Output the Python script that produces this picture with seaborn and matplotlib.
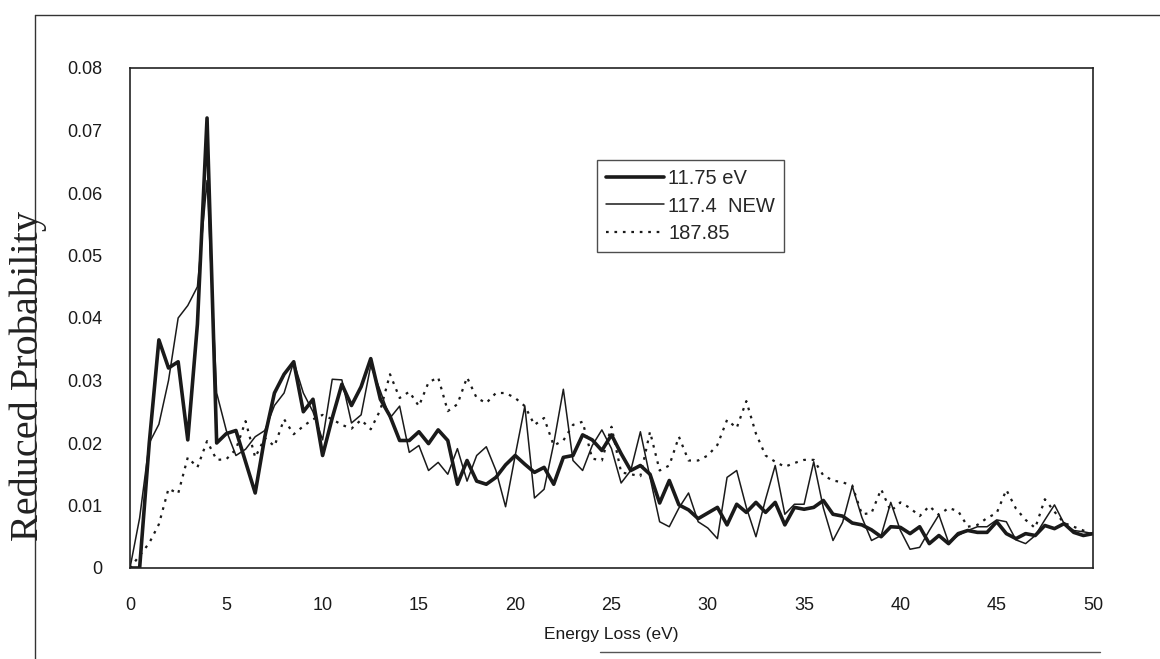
import numpy as np
import pandas as pd
import matplotlib
matplotlib.use("Agg")
import matplotlib.pyplot as plt
from matplotlib.lines import Line2D
import seaborn as sns

# ---- data (Energy loss step 0.5 eV) ----
energy_loss = [i * 0.5 for i in range(101)]

series_11_75 = [
    0.000, 0.000, 0.020, 0.0365, 0.032, 0.033, 0.0205, 0.039, 0.072, 0.020,
    0.0215, 0.022, 0.017, 0.012, 0.021, 0.028, 0.031, 0.033, 0.025, 0.027,
    0.018, 0.024, 0.0294, 0.026, 0.029, 0.0335, 0.027, 0.0243, 0.0204, 0.0204,
    0.0218, 0.0199, 0.0221, 0.0204, 0.0134, 0.0172, 0.0139, 0.0134, 0.0145, 0.0165,
    0.018, 0.0166, 0.0153, 0.0161, 0.0134, 0.0177, 0.018, 0.0213, 0.0205, 0.0188,
    0.0213, 0.0183, 0.0156, 0.0164, 0.015, 0.0104, 0.014, 0.0101, 0.0093, 0.0079,
    0.0088, 0.0097, 0.0069, 0.0102, 0.0089, 0.0105, 0.0089, 0.0105, 0.0069, 0.0097,
    0.0094, 0.0097, 0.0108, 0.0086, 0.0083, 0.0072, 0.0069, 0.0061, 0.005, 0.0066,
    0.0065, 0.0055, 0.0066, 0.0039, 0.0052, 0.0039, 0.0055, 0.006, 0.0057, 0.0057,
    0.0074, 0.0055, 0.0047, 0.0055, 0.0052, 0.0068, 0.0063, 0.0071, 0.0057, 0.0052,
    0.0055,
]

series_117_4 = [
    0.000, 0.008, 0.020, 0.023, 0.030, 0.040, 0.042, 0.045, 0.062, 0.028,
    0.022, 0.018, 0.019, 0.021, 0.022, 0.026, 0.028, 0.033, 0.028, 0.025,
    0.0205, 0.0302, 0.0301, 0.0232, 0.0245, 0.0324, 0.0283, 0.024, 0.0259, 0.0185,
    0.0196, 0.0156, 0.0169, 0.015, 0.0191, 0.0139, 0.018, 0.0194, 0.0156, 0.0098,
    0.018, 0.0259, 0.0112, 0.0126, 0.0199, 0.0286, 0.0172, 0.0156, 0.0196, 0.0221,
    0.0191, 0.0136, 0.0156, 0.0218, 0.0145, 0.0074, 0.0066, 0.0096, 0.012, 0.0074,
    0.0064, 0.0047, 0.0145, 0.0156, 0.0097, 0.005, 0.011, 0.0164, 0.0086, 0.0102,
    0.0102, 0.017, 0.0096, 0.0044, 0.0073, 0.0131, 0.0081, 0.0044, 0.0052, 0.0105,
    0.006, 0.003, 0.0033, 0.006, 0.0085, 0.0041, 0.0052, 0.006, 0.0066, 0.0066,
    0.0077, 0.0074, 0.0045, 0.0039, 0.0052, 0.0077, 0.0101, 0.0071, 0.006, 0.0058,
    0.0055,
]

series_187_85 = [
    0.000, 0.002, 0.004, 0.007, 0.0127, 0.0119, 0.0177, 0.0161, 0.0203, 0.0173,
    0.0174, 0.019, 0.0235, 0.0177, 0.0208, 0.0195, 0.0238, 0.0214, 0.0227, 0.0238,
    0.0245, 0.0238, 0.0229, 0.0223, 0.0237, 0.0222, 0.0253, 0.031, 0.0272, 0.0282,
    0.0259, 0.0297, 0.0305, 0.0251, 0.0262, 0.0305, 0.0272, 0.0264, 0.028, 0.028,
    0.0272, 0.0259, 0.0229, 0.024, 0.0196, 0.0204, 0.0229, 0.0234, 0.0175, 0.0172,
    0.0226, 0.0153, 0.015, 0.0147, 0.0218, 0.0156, 0.0164, 0.021, 0.0172, 0.0172,
    0.018, 0.0197, 0.0237, 0.0224, 0.0267, 0.0215, 0.018, 0.017, 0.0162, 0.0168,
    0.0173, 0.0173, 0.0148, 0.014, 0.0137, 0.0132, 0.0086, 0.0088, 0.0126, 0.0091,
    0.0105, 0.0096, 0.0083, 0.0099, 0.0085, 0.0096, 0.0091, 0.0066, 0.0069, 0.008,
    0.0088, 0.0125, 0.0095, 0.0077, 0.0064, 0.011, 0.009, 0.0072, 0.0066, 0.006,
    0.0053,
]

series_labels = ["11.75 eV", "117.4  NEW", "187.85"]
x_ticks = [0, 5, 10, 15, 20, 25, 30, 35, 40, 45, 50]
y_ticks = [0, 0.01, 0.02, 0.03, 0.04, 0.05, 0.06, 0.07, 0.08]
y_tick_labels = ["0", "0.01", "0.02", "0.03", "0.04", "0.05", "0.06", "0.07", "0.08"]
x_label = "Energy Loss (eV)"
y_label = "Reduced Probability"

# ---- figure ----
sns.set_theme(style="white")
plt.rcParams["font.family"] = ["Liberation Sans", "DejaVu Sans"]

W, H = 1160, 659
fig = plt.figure(figsize=(W / 100, H / 100), dpi=100)
ax = fig.add_axes([130 / W, 1 - 568 / H, (1093 - 130) / W, (568 - 68) / H])

styles = [
    dict(linewidth=2.6, linestyle="-"),
    dict(linewidth=1.1, linestyle="-"),
    dict(linewidth=1.6, linestyle=(0, (1.2, 2.6))),
]
for vals, lab, st in zip([series_11_75, series_117_4, series_187_85], series_labels, styles):
    df = pd.DataFrame({"x": energy_loss, "y": vals})
    sns.lineplot(data=df, x="x", y="y", ax=ax, color="#1a1a1a", label=lab, **st)

ax.set_xlim(0, 50)
ax.set_ylim(0, 0.08)
ax.set_xticks(x_ticks)
ax.set_xticklabels([str(t) for t in x_ticks], fontsize=13)
ax.set_yticks(y_ticks)
ax.set_yticklabels(y_tick_labels, fontsize=13)
ax.tick_params(axis="both", direction="in", length=5, width=1, color="#222222",
               labelcolor="#1a1a1a")
ax.tick_params(axis="x", pad=21)
ax.tick_params(axis="y", pad=20)
for s in ax.spines.values():
    s.set_color("#222222")
    s.set_linewidth(1.2)
ax.set_xlabel(x_label, fontsize=12.5, labelpad=9, color="#1a1a1a")
ax.set_ylabel("")
fig.text(28 / W, 1 - 376 / H, y_label, rotation=90, ha="center", va="center",
         fontsize=29, family=["Liberation Serif", "DejaVu Serif"], color="#222222")

leg = ax.legend(loc="upper left", bbox_to_anchor=((597 - 130) / 963, (568 - 160) / 500),
                frameon=True, fancybox=False, fontsize=14.5, handlelength=2.9,
                handletextpad=0.2, borderpad=0.45, labelspacing=0.42, borderaxespad=0)
leg.get_frame().set_edgecolor("#222222")
leg.get_frame().set_linewidth(1.0)

# outer frame
fig.add_artist(Line2D([35 / W, 35 / W], [1 - 15 / H, 0], transform=fig.transFigure, color="#333333", lw=1))
fig.add_artist(Line2D([35 / W, 1], [1 - 15 / H, 1 - 15 / H], transform=fig.transFigure, color="#333333", lw=1))
fig.add_artist(Line2D([600 / W, 1100 / W], [1 - 652 / H, 1 - 652 / H], transform=fig.transFigure, color="#555555", lw=1))

fig.savefig("out.png", dpi=100, facecolor="white")
